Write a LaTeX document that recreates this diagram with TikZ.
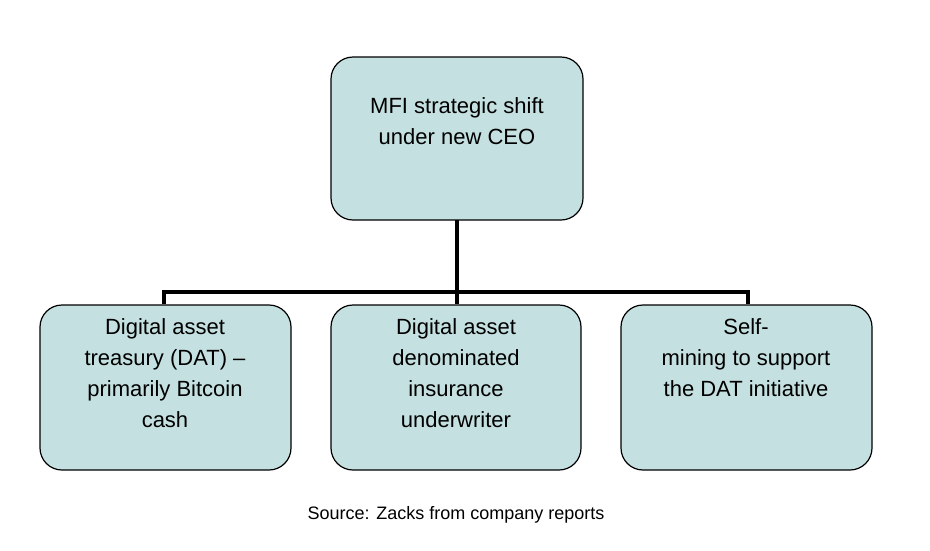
\documentclass[tikz,border=0pt]{standalone}
\usepackage{fontspec}
\setmainfont{Liberation Sans}
\definecolor{boxfill}{HTML}{C4E0E0}
\begin{document}
\begin{tikzpicture}[x=1pt,y=-1pt,
  box/.style={draw=black,line width=1.2pt,fill=boxfill,rounded corners=22pt},
  lbl/.style={anchor=north,align=center,font=\fontsize{22}{31}\selectfont,inner sep=0pt},
  conn/.style={line width=4.5pt}]
\useasboundingbox (0,0) rectangle (930,550);
\path[box] (331,57) rectangle (583,220);
\path[box] (40,305) rectangle (291,470);
\path[box] (331,305) rectangle (581,470);
\path[box] (621,305) rectangle (872,470);
\node[lbl] (top) at (457,97) {MFI strategic shift\\under new CEO};
\node[lbl] (a) at (165,318) {Digital asset\\treasury (DAT) –\\primarily Bitcoin\\cash};
\node[lbl] (b) at (456,318) {Digital asset\\denominated\\insurance\\underwriter};
\node[lbl] (c) at (746,318) {Self-\\mining to support\\the DAT initiative};
\coordinate (t) at (457,220);
\coordinate (m) at (457,292);
\draw[conn] (t) -- (m);
\draw[conn,line join=miter] (164,304) -- (164,292) -- (748,292) -- (748,304);
\draw[conn] (m) -- (457,304);
\node[font=\fontsize{18}{22}\selectfont] (src) at (456,515) {Source: Zacks from company reports};
\end{tikzpicture}
\end{document}
